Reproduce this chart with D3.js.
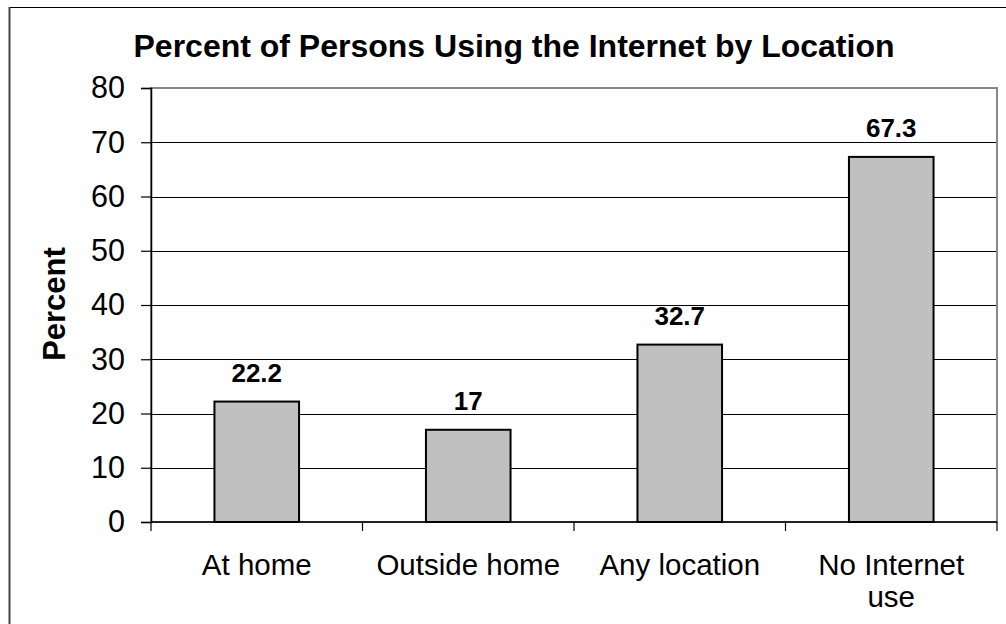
<!DOCTYPE html>
<html><head><meta charset="utf-8">
<script src="https://cdn.jsdelivr.net/npm/d3@7"></script>
<style>
html,body{margin:0;padding:0;background:#fff;overflow:hidden;}
svg{display:block;font-family:Arial,"Liberation Sans",sans-serif;}
</style></head>
<body>
<svg id="chart" width="1006" height="624"></svg>
<script>
const categories = ["At home", "Outside home", "Any location", "No Internet use"];
const categoryLines = [["At home"], ["Outside home"], ["Any location"], ["No Internet", "use"]];
const values = [22.2, 17, 32.7, 67.3];
const valueLabels = ["22.2", "17", "32.7", "67.3"];
const yTicks = [0, 10, 20, 30, 40, 50, 60, 70, 80];
const title = "Percent of Persons Using the Internet by Location";
const yTitle = "Percent";

const svg = d3.select("#chart");
const L = 151, R = 997, T = 88, B = 522;

// outer chart border (extends beyond the visible area)
svg.append("rect").attr("x", 9.5).attr("y", 7.5).attr("width", 1100).attr("height", 700)
  .attr("fill", "none").attr("stroke", "#000").attr("stroke-width", 1);
svg.append("line").attr("x1", 9.5).attr("x2", 9.5).attr("y1", 7).attr("y2", 624)
  .attr("stroke", "#444").attr("stroke-width", 2);

const x = d3.scaleBand().domain(categories).range([L, R]).paddingInner(0.6).paddingOuter(0.3);
const xb = d3.scaleBand().domain(categories).range([L, R]);
const y = d3.scaleLinear().domain([0, 80]).range([B, T]);

// gridlines
svg.append("g").selectAll("line").data(yTicks.filter(d => d > 0 && d < 80)).join("line")
  .attr("x1", L).attr("x2", R).attr("y1", d => Math.round(y(d)) + 0.5).attr("y2", d => Math.round(y(d)) + 0.5)
  .attr("stroke", "#000").attr("stroke-width", 1);

// plot area border (gray)
svg.append("rect").attr("x", L).attr("y", T).attr("width", R - L).attr("height", B - T)
  .attr("fill", "none").attr("stroke", "#888").attr("stroke-width", 2);

// y axis
const yAxis = svg.append("g").attr("transform", `translate(${L},0)`)
  .call(d3.axisLeft(y).tickValues(yTicks).tickSize(10).tickPadding(16).tickFormat(d3.format("d")));
yAxis.select(".domain").attr("stroke", "#000").attr("stroke-width", 1.5);
yAxis.selectAll(".tick line").attr("stroke", "#000").attr("stroke-width", 1.2);
yAxis.selectAll(".tick text").attr("font-size", 30.5).attr("fill", "#000")
  .attr("font-family", "Arial, 'Liberation Sans', sans-serif");

// x axis line and ticks at category boundaries
svg.append("line").attr("x1", L).attr("x2", R).attr("y1", B).attr("y2", B)
  .attr("stroke", "#000").attr("stroke-width", 1.5);
const bounds = categories.map(c => xb(c)).concat([R]);
svg.append("g").selectAll("line").data(bounds).join("line")
  .attr("x1", d => d).attr("x2", d => d).attr("y1", B).attr("y2", B + 9)
  .attr("stroke", "#000").attr("stroke-width", 1.2);

// bars
svg.append("g").selectAll("rect").data(values).join("rect")
  .attr("x", (d, i) => x(categories[i]))
  .attr("y", d => y(d))
  .attr("width", x.bandwidth())
  .attr("height", d => B - y(d))
  .attr("fill", "#c0c0c0").attr("stroke", "#000").attr("stroke-width", 2);

// value labels
svg.append("g").selectAll("text").data(values).join("text")
  .attr("x", (d, i) => xb(categories[i]) + xb.bandwidth() / 2)
  .attr("y", d => y(d) - 20)
  .attr("text-anchor", "middle").attr("font-size", 26).attr("font-weight", "bold")
  .text((d, i) => valueLabels[i]);

// category labels
const cl = svg.append("g").selectAll("text").data(categoryLines).join("text")
  .attr("x", (d, i) => xb(categories[i]) + xb.bandwidth() / 2)
  .attr("y", 575)
  .attr("text-anchor", "middle").attr("font-size", 29.5);
cl.selectAll("tspan").data(d => d).join("tspan")
  .attr("x", function () { return d3.select(this.parentNode).attr("x"); })
  .attr("dy", (d, i) => i === 0 ? 0 : 32)
  .text(d => d);

// title
svg.append("text").attr("x", 514).attr("y", 57).attr("text-anchor", "middle")
  .attr("font-size", 32).attr("font-weight", "bold").text(title);

// y title
svg.append("text").attr("transform", "translate(65,304) rotate(-90)")
  .attr("text-anchor", "middle").attr("font-size", 31).attr("font-weight", "bold").text(yTitle);
</script>
</body></html>
